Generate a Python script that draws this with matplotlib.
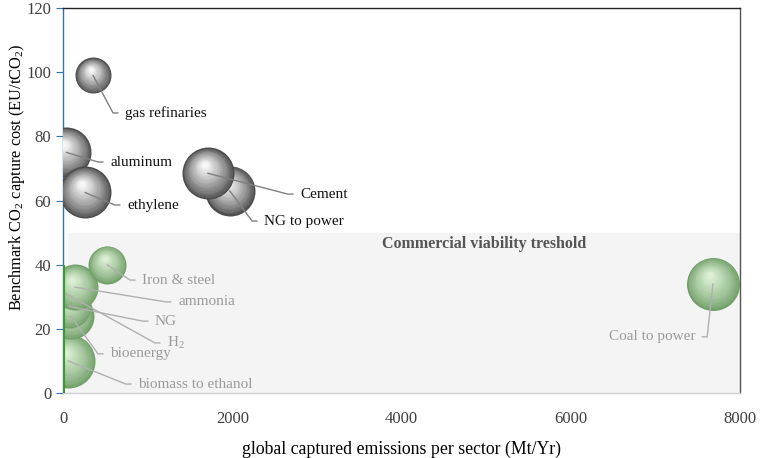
import matplotlib
matplotlib.use("Agg")
import matplotlib.pyplot as plt
import matplotlib.transforms as mtransforms
import numpy as np

plt.rcParams['font.family'] = ['Liberation Serif', 'DejaVu Serif']
plt.rcParams['mathtext.fontset'] = 'custom'
plt.rcParams['mathtext.rm'] = 'Liberation Serif'

# sectors, drawn in this order (later ones sit in front)
sectors = ["gas refinaries", "aluminum", "ethylene", "NG to power", "Cement",
           "Coal to power", "biomass to ethanol", "bioenergy", "H$_2$", "NG",
           "ammonia", "Iron & steel"]
emissions = [355, 40, 260, 1970, 1710, 7680, 60, 90, 30, 70, 140, 520]   # Mt/Yr
cost = [99, 75, 62.5, 63, 68.5, 34, 10, 24, 31, 27, 33, 40]               # EU/tCO2
bubble = [36, 50, 52, 50, 52, 53, 54, 46, 30, 44, 46, 38]                 # relative size
label_x = [733, 556, 756, 2376, 2801, 7470, 886, 556, 1229, 1087, 1359, 934]
label_y = [87.3, 72, 58.6, 53.6, 62, 17.5, 2.8, 12.2, 15.6, 22.4, 28.4, 35.2]
threshold = 50

fig = plt.figure(figsize=(7.61, 4.58), dpi=100)
ax = fig.add_axes([0.0828, 0.1419, 0.8896, 0.8406])
ax.set_xlim(0, 8000)
ax.set_ylim(0, 120)

# shaded zone below the threshold
ax.axhspan(0, threshold, xmin=0.008, xmax=1, color="#f4f4f4", zorder=0)
ax.text(4980, threshold - 1, "Commercial viability treshold", ha="center", va="top",
        fontsize=11.5, fontweight="bold", color="#555555", zorder=1)


def sphere(x, y, d, low):
    if low:
        c0, c1 = np.array([0.45, 0.63, 0.42]), np.array([0.86, 0.94, 0.83])
    else:
        c0, c1 = np.array([0.30, 0.30, 0.30]), np.array([0.97, 0.97, 0.97])
    r = d * 0.72 / 2
    n = 16
    for k in range(n):
        t = k / (n - 1)
        size = (d * 0.72 * (1 - 0.88 * t)) ** 2
        col = c0 + (c1 - c0) * t ** 0.8
        tr = mtransforms.offset_copy(ax.transData, fig=fig, x=-0.12 * r * t,
                                     y=0.32 * r * t, units="points")
        ax.scatter([x], [y], s=size, color=col, transform=tr, linewidths=0, zorder=3)


fig.canvas.draw()
for i in range(len(sectors)):
    low = cost[i] < threshold
    sphere(emissions[i], cost[i], bubble[i], low)
    right = label_x[i] < emissions[i]
    # leader: short horizontal piece at the text, then straight to the bubble
    px, py = ax.transData.transform((emissions[i], cost[i]))
    tx, ty = ax.transData.transform((label_x[i], label_y[i]))
    cx = tx + (12 if right else -12)
    angB = np.degrees(np.arctan2(ty - py, cx - px))
    ax.annotate(sectors[i], xy=(emissions[i], cost[i]), xytext=(label_x[i], label_y[i]),
                ha="right" if right else "left", va="center", fontsize=11,
                color="#9a9a9a" if low else "#111111",
                arrowprops=dict(arrowstyle="-", color="#b0b0b0" if low else "#808080",
                                lw=1, shrinkA=3, shrinkB=0,
                                connectionstyle="angle,angleA=0,angleB=%.1f,rad=0" % angB),
                zorder=4)

# green highlight along the axis for the sectors near zero
ax.vlines(0, 0, max(cost[6:]), color="#3c9a2c", lw=3, zorder=5)

ax.spines["left"].set_color("#2e75b6")
ax.spines["top"].set_color("#222222")
ax.spines["right"].set_color("#555555")
ax.spines["bottom"].set_color("#d0d0d0")
for s in ax.spines.values():
    s.set_linewidth(1)

ax.set_yticks(range(0, 121, 20))
ax.set_xticks(range(0, 8001, 2000))
ax.tick_params(axis="y", colors="#2e75b6", length=5, labelsize=12, labelcolor="#404040")
ax.tick_params(axis="x", length=0, labelsize=12, labelcolor="#404040", pad=13)

ax.set_xlabel("global captured emissions per sector (Mt/Yr)", fontsize=12.8, labelpad=10)
ax.set_ylabel("Benchmark CO$_2$ capture cost (EU/tCO$_2$)", fontsize=11.8, va="center")
ax.yaxis.set_label_coords(-0.068, 0.56)

fig.savefig("out.png", dpi=100)
